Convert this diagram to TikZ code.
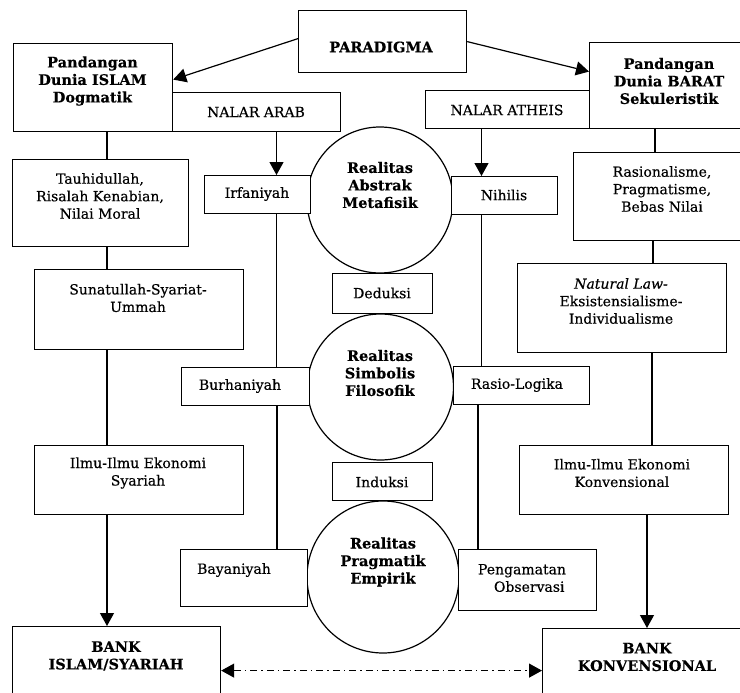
\documentclass[tikz,border=0pt]{standalone}
\usepackage{fontspec}
\setmainfont{DejaVu Serif}[UprightFeatures={FakeBold=0.4},BoldFeatures={FakeBold=0.3},ItalicFeatures={FakeBold=0.4}]
\usetikzlibrary{arrows.meta,calc}

\begin{document}
\begin{tikzpicture}[x=1pt,y=-1pt,
  frame/.style={draw=black,line width=1.2pt,fill=white,rectangle,anchor=north west,inner sep=0pt},
  ring/.style={draw=black,line width=1.2pt,fill=white,circle,inner sep=0pt},
  txt/.style={align=center,inner sep=0pt,font=\fontsize{14}{17.5}\selectfont},
  btxt/.style={align=center,inner sep=0pt,font=\fontsize{14.5}{17.5}\selectfont\bfseries},
  link/.style={line width=1.2pt},
  flow/.style={link,-{Triangle[length=13pt,width=14pt]}},
  twoway/.style={link,dash pattern=on 7pt off 4pt on 1.5pt off 4pt,
    {Triangle[length=13pt,width=14pt]}-{Triangle[length=13pt,width=14pt]}}]

\path[use as bounding box] (0,0) rectangle (740,693);
\clip (0,0) rectangle (740,693);

% column positions of the vertical connectors
\coordinate (xL) at (107,0);
\coordinate (xA) at (276.5,0);
\coordinate (xA2) at (277,0);
\coordinate (xB) at (481.5,0);
\coordinate (xB2) at (478,0);
\coordinate (xR1) at (655,0);
\coordinate (xR2) at (653,0);
\coordinate (xR3) at (652,0);
\coordinate (xR4) at (647,0);

% the three levels of reality
\node[ring,minimum size=146] (c1) at (380,200) {};
\node[ring,minimum size=146] (c2) at (380.5,387) {};
\node[ring,minimum size=152] (c3) at (383,577) {};
\node[btxt] (c1t) at (380,185) {Realitas\\Abstrak\\Metafisik};
\node[btxt] (c2t) at (380,373) {Realitas\\Simbolis\\Filosofik};
\node[btxt] (c3t) at (383,562) {Realitas\\Pragmatik\\Empirik};

% boxes
\node[frame,minimum width=168,minimum height=62] (para) at (298,10) {};
\node[frame,minimum width=159,minimum height=88] (islam) at (13,43) {};
\node[frame,minimum width=168,minimum height=39] (nalarA) at (172,92) {};
\node[frame,minimum width=160,minimum height=86] (barat) at (589,42) {};
\node[frame,minimum width=164,minimum height=38] (nalarT) at (425,90) {};
\node[frame,minimum width=176,minimum height=87] (tauhid) at (12,159) {};
\node[frame,minimum width=106,minimum height=38] (irf) at (204,175) {};
\node[frame,minimum width=106,minimum height=38] (nih) at (451,176) {};
\node[frame,minimum width=178,minimum height=88] (rasional) at (573,152) {};
\node[frame,minimum width=209,minimum height=80] (sun) at (34,269) {};
\node[frame,minimum width=209,minimum height=89] (nl) at (517,263) {};
\node[frame,minimum width=100,minimum height=40] (ded) at (332,273) {};
\node[frame,minimum width=128,minimum height=38] (burh) at (181,367) {};
\node[frame,minimum width=136,minimum height=38] (rasio) at (453,366) {};
\node[frame,minimum width=209,minimum height=69] (ilmuS) at (34,445) {};
\node[frame,minimum width=209,minimum height=69] (ilmuK) at (519,445) {};
\node[frame,minimum width=100,minimum height=38] (ind) at (332,462) {};
\node[frame,minimum width=127,minimum height=57] (bay) at (180,549) {};
\node[frame,minimum width=138,minimum height=61] (peng) at (458,549) {};
\node[frame,minimum width=208,minimum height=88] (bankI) at (12,626) {};
\node[frame,minimum width=210,minimum height=84] (bankK) at (542,628) {};

% box texts
\node[btxt] (parat) at (381,47) {PARADIGMA};
\node[btxt] (islamt) at (92.5,81) {Pandangan\\Dunia ISLAM\\Dogmatik};
\node[txt] (nalarAt) at (256,112) {NALAR ARAB};
\node[btxt] (baratt) at (669,81) {Pandangan\\Dunia BARAT\\Sekuleristik};
\node[txt] (nalarTt) at (507,110) {NALAR ATHEIS};
\node[txt] (tauhidt) at (100,196) {Tauhidullah,\\Risalah Kenabian,\\Nilai Moral};
\node[txt] (irft) at (257,194) {Irfaniyah};
\node[txt] (niht) at (504,195) {Nihilis};
\node[txt] (rasionalt) at (662,189) {Rasionalisme,\\Pragmatisme,\\Bebas Nilai};
\node[txt] (sunt) at (138,298) {Sunatullah-Syariat-\\Ummah};
\node[txt] (nlt) at (621,301) {\textit{Natural Law-}\\Eksistensialisme-\\Individualisme};
\node[txt] (dedt) at (382,293) {Deduksi};
\node[txt] (burht) at (240,386) {Burhaniyah};
\node[txt] (rasiot) at (517,385) {Rasio-Logika};
\node[txt] (ilmuSt) at (138,473) {Ilmu-Ilmu Ekonomi\\Syariah};
\node[txt] (ilmuKt) at (622,473) {Ilmu-Ilmu Ekonomi\\Konvensional};
\node[txt] (indt) at (382,482) {Induksi};
\node[txt] (bayt) at (234,570) {Bayaniyah};
\node[txt,align=left] (pengt) at (522,578) {Pengamatan\\\hspace*{16pt}Observasi};
\node[btxt] (bankIt) at (116,656) {BANK\\ISLAM/SYARIAH};
\node[btxt] (bankKt) at (647,657) {BANK\\KONVENSIONAL};

% connectors
\draw[flow] ($(para.west)+(0,-3)$) -- ($(islam.east)+(0,-8)$);
\draw[flow] (para.east) -- ($(barat.west)+(0,-14)$);

\draw[link] (islam.south -| xL) -- (tauhid.north -| xL);
\draw[link] (tauhid.south -| xL) -- (sun.north -| xL);
\draw[link] (sun.south -| xL) -- (ilmuS.north -| xL);
\draw[flow] (ilmuS.south -| xL) -- (bankI.north -| xL);

\draw[flow] (nalarA.south -| xA) -- (irf.north -| xA);
\draw[link] (irf.south -| xA) -- (burh.north -| xA);
\draw[link] (burh.south -| xA2) -- (bay.north -| xA2);

\draw[flow] (nalarT.south -| xB) -- (nih.north -| xB);
\draw[link] (nih.south -| xB) -- (rasio.north -| xB);
\draw[link] (rasio.south -| xB2) -- (peng.north -| xB2);

\draw[link] (barat.south -| xR1) -- (rasional.north -| xR1);
\draw[link] (rasional.south -| xR2) -- (nl.north -| xR2);
\draw[link] (nl.south -| xR3) -- (ilmuK.north -| xR3);
\draw[flow] (ilmuK.south -| xR4) -- (bankK.north -| xR4);

\draw[twoway] (bankI.east) -- (bankK.west);

\end{tikzpicture}
\end{document}
